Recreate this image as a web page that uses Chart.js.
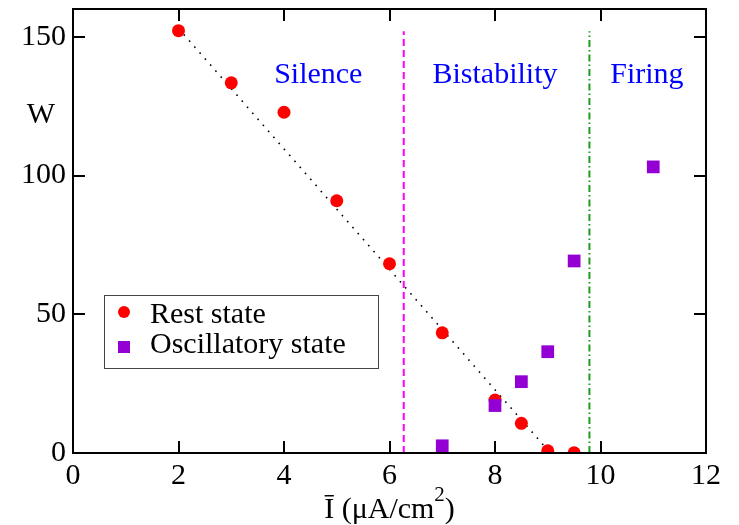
<!DOCTYPE html>
<html>
<head>
<meta charset="utf-8">
<script src="https://cdn.jsdelivr.net/npm/chart.js@4.4.1/dist/chart.umd.min.js"></script>
<style>
  html, body { margin: 0; padding: 0; background: #fff; }
  #wrap { position: relative; width: 739px; height: 525px; font-family: "Liberation Serif", serif; }
</style>
</head>
<body>
<div id="wrap"><canvas id="chart"></canvas></div>
<script>
// values
var restX = [2, 3, 4, 5, 6, 7, 8, 8.5, 9, 9.5];
var restW = [152.2, 133.4, 122.8, 90.9, 68.2, 43.3, 19.1, 10.7, 0.8, 0.1];
var oscX = [7, 8, 8.5, 9, 9.5, 11];
var oscW = [2.6, 17.1, 25.7, 36.5, 69.2, 103.1];
var fitX = [2, 9.05];
var fitW = [153, 0];
var boundaryX = [6.27, 9.79];
var boundaryTop = 152;
var regionNames = ['Silence', 'Bistability', 'Firing'];
var regionX = [4.65, 8.0, 10.88];
var regionW = 133.5;
var xTicks = [0, 2, 4, 6, 8, 10, 12];
var yTicks = [0, 50, 100, 150];

var FONT = 'Liberation Serif, Times New Roman, Times, serif';
Chart.defaults.font.family = FONT;
Chart.defaults.font.size = 30;
Chart.defaults.color = '#000';

function pts(xs, ys) {
    return xs.map((x, i) => ({ x: x, y: ys[i] }));
}

var datasets = [
    {
        label: 'silence edge',
        data: pts([boundaryX[0], boundaryX[0]], [0, boundaryTop]),
        showLine: true,
        borderColor: '#ff00ff',
        borderWidth: 2,
        borderDash: [7, 4],
        pointRadius: 0
    },
    {
        label: 'firing edge',
        data: pts([boundaryX[1], boundaryX[1]], [0, boundaryTop]),
        showLine: true,
        borderColor: '#1f9a1f',
        borderWidth: 2,
        borderDash: [7, 3, 1.5, 3],
        pointRadius: 0
    },
    {
        label: 'Oscillatory state',
        data: pts(oscX, oscW),
        pointStyle: 'rect',
        pointRadius: 9,
        backgroundColor: '#9400d3',
        borderColor: '#9400d3',
        borderWidth: 0
    },
    {
        label: 'Rest state',
        data: pts(restX, restW),
        pointStyle: 'circle',
        pointRadius: 6.5,
        backgroundColor: '#ff0000',
        borderColor: '#ff0000',
        borderWidth: 0
    },
    {
        // the fit line sits on top of the red dots in the picture
        label: 'fit',
        data: pts(fitX, fitW),
        showLine: true,
        borderColor: '#000',
        borderWidth: 1.6,
        borderDash: [1.6, 6.4],
        pointRadius: 0
    }
];

var framePlugin = {
    id: 'frame',
    afterDraw: function (chart) {
        var ctx = chart.ctx;
        var a = chart.chartArea;
        var xs = chart.scales.x, ys = chart.scales.y;
        ctx.save();
        ctx.strokeStyle = '#000';
        ctx.lineWidth = 2;
        ctx.strokeRect(a.left, a.top, a.right - a.left, a.bottom - a.top);
        // inward ticks on all four sides
        var tl = 12;
        ctx.beginPath();
        xTicks.forEach(v => {
            var px = Math.round(xs.getPixelForValue(v));
            ctx.moveTo(px, a.bottom); ctx.lineTo(px, a.bottom - tl);
            ctx.moveTo(px, a.top); ctx.lineTo(px, a.top + tl);
        });
        yTicks.forEach(v => {
            var py = Math.round(ys.getPixelForValue(v));
            ctx.moveTo(a.left, py); ctx.lineTo(a.left + tl, py);
            ctx.moveTo(a.right, py); ctx.lineTo(a.right - tl, py);
        });
        ctx.stroke();

        // region names
        ctx.fillStyle = '#0000ff';
        ctx.font = '30px ' + FONT;
        ctx.textAlign = 'center';
        ctx.textBaseline = 'alphabetic';
        regionNames.forEach((t, i) => {
            ctx.fillText(t, xs.getPixelForValue(regionX[i]), ys.getPixelForValue(regionW));
        });

        // axis titles
        ctx.fillStyle = '#000';
        ctx.textAlign = 'center';
        ctx.fillText('W', a.left - 32, 123);
        var main = '\u012A (\u03BCA/cm';
        ctx.font = '30px ' + FONT;
        var w1 = ctx.measureText(main).width;
        var w3 = ctx.measureText(')').width;
        ctx.font = '21px ' + FONT;
        var w2 = ctx.measureText('2').width;
        var total = w1 + w2 + w3;
        var x0 = (a.left + a.right) / 2 - total / 2;
        var base = a.bottom + 65;
        ctx.textAlign = 'left';
        ctx.font = '30px ' + FONT;
        ctx.fillText(main, x0, base);
        ctx.font = '21px ' + FONT;
        ctx.fillText('2', x0 + w1, base - 17);
        ctx.font = '30px ' + FONT;
        ctx.fillText(')', x0 + w1 + w2, base);

        // legend box
        var lx = a.left + 31, ly = 295, lw = 274, lh = 73;
        ctx.fillStyle = '#fff';
        ctx.fillRect(lx, ly, lw, lh);
        ctx.strokeStyle = '#444';
        ctx.lineWidth = 1;
        ctx.strokeRect(lx + 0.5, ly + 0.5, lw, lh);
        var rest = chart.data.datasets.find(d => d.label === 'Rest state');
        var osc = chart.data.datasets.find(d => d.label === 'Oscillatory state');
        ctx.fillStyle = rest.backgroundColor;
        ctx.beginPath();
        ctx.arc(lx + 20, ly + 17, 6, 0, Math.PI * 2);
        ctx.fill();
        ctx.fillStyle = osc.backgroundColor;
        ctx.fillRect(lx + 14, ly + 46, 12, 12);
        ctx.fillStyle = '#000';
        ctx.font = '30px ' + FONT;
        ctx.textAlign = 'left';
        ctx.fillText(rest.label, lx + 46, ly + 28);
        ctx.fillText(osc.label, lx + 46, ly + 58);
        ctx.restore();
    }
};

new Chart(document.getElementById('chart').getContext('2d'), {
    type: 'scatter',
    data: { datasets: datasets },
    options: {
        responsive: true,
        maintainAspectRatio: false,
        animation: false,
        layout: { padding: { top: 9, right: 33, left: 0, bottom: 0 } },
        plugins: { legend: { display: false }, tooltip: { enabled: false } },
        scales: {
            x: {
                type: 'linear',
                min: 0,
                max: 12,
                afterFit: function (s) { s.height = 72; s.paddingLeft = 0; s.paddingRight = 0; },
                afterBuildTicks: function (s) { s.ticks = xTicks.map(v => ({ value: v })); },
                grid: { display: false, drawTicks: false },
                border: { display: false },
                ticks: { color: '#000', font: { family: FONT, size: 30 }, padding: 5, maxRotation: 0 }
            },
            y: {
                type: 'linear',
                min: 0,
                max: 160,
                afterFit: function (s) { s.width = 73; s.paddingTop = 0; s.paddingBottom = 0; },
                afterBuildTicks: function (s) { s.ticks = yTicks.map(v => ({ value: v })); },
                grid: { display: false, drawTicks: false },
                border: { display: false },
                ticks: { color: '#000', font: { family: FONT, size: 30 }, padding: 7 }
            }
        }
    },
    plugins: [framePlugin]
});
</script>
</body>
</html>
